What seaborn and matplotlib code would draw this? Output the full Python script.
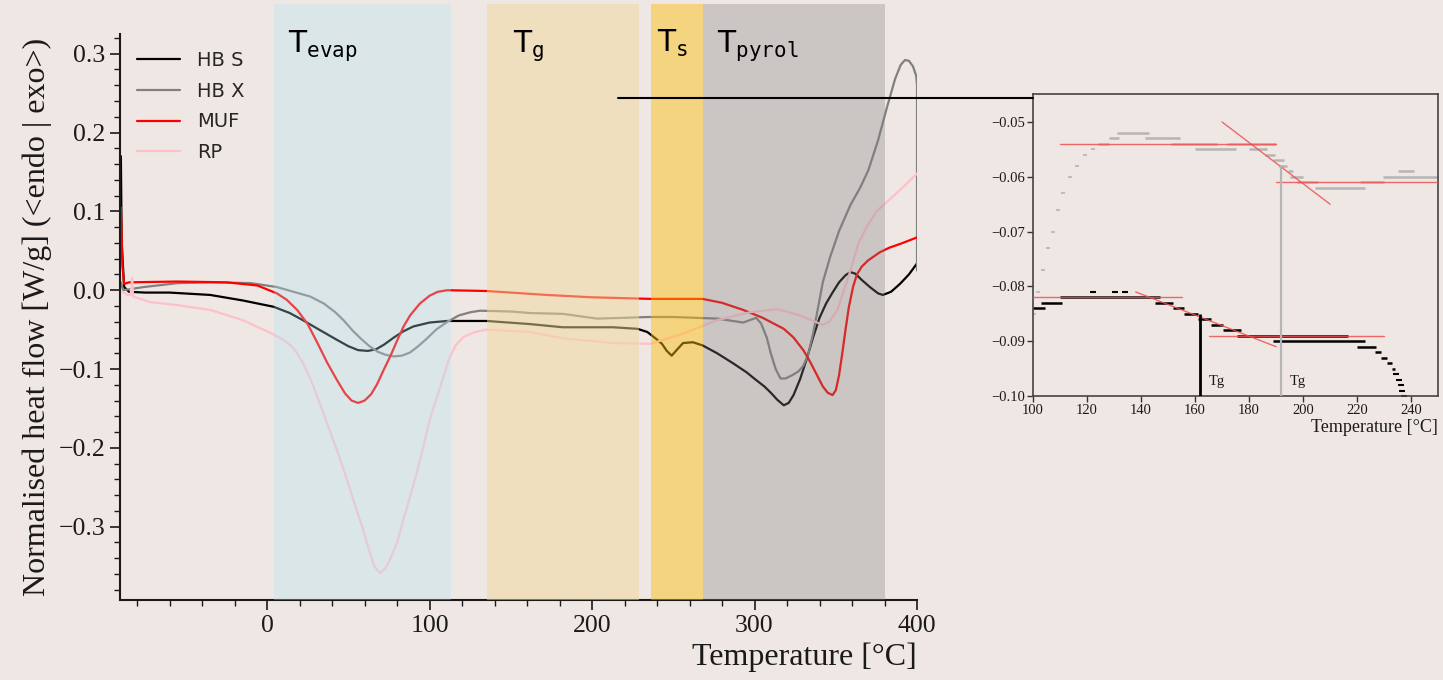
import matplotlib
matplotlib.use("Agg")
import numpy as np
import pandas as pd
import matplotlib.pyplot as plt
import seaborn as sns
from matplotlib.lines import Line2D
from matplotlib.ticker import MultipleLocator, FuncFormatter

# ---------------- data ----------------
samples = ["HB S", "HB X", "MUF", "RP"]
colors = ["black", "gray", "red", "pink"]

hbs_T = [-90, -89.5, -88, -85, -75, -60, -35, -15, 4, 14, 22, 32, 43, 50, 56, 62, 67, 72, 78,
         84, 90, 100, 111, 135, 162, 182, 213, 228, 234, 239, 243, 246, 249, 252, 256, 262,
         268, 277, 287, 295, 301, 306, 310, 314, 318, 321, 324, 328, 332, 336, 340, 344, 348,
         352, 356, 359, 362, 366, 371, 376, 379, 384, 389.5, 395, 400]
hbs_hf = [0.17, 0.06, 0.004, -0.002, -0.003, -0.003, -0.006, -0.013, -0.021, -0.029, -0.038,
          -0.050, -0.063, -0.071, -0.076, -0.077, -0.075, -0.069, -0.060, -0.052, -0.046,
          -0.041, -0.039, -0.039, -0.043, -0.047, -0.047, -0.049, -0.053, -0.061, -0.068,
          -0.077, -0.083, -0.076, -0.067, -0.066, -0.070, -0.080, -0.093, -0.104, -0.114,
          -0.122, -0.130, -0.139, -0.146, -0.143, -0.133, -0.113, -0.088, -0.060, -0.035,
          -0.017, -0.003, 0.010, 0.019, 0.023, 0.021, 0.013, 0.004, -0.004, -0.006, -0.002,
          0.008, 0.020, 0.034]

hbx_T = [-90, -88.6, -76, -55, -35, -10, 6, 26.5, 35, 42, 47, 53, 58, 63, 68, 73, 78, 83, 88,
         93, 98, 104, 111, 118, 125, 131, 150, 162, 182, 203, 220, 234, 250, 277, 293, 301, 304,
         307.5, 310, 313, 316, 319, 323, 327, 330, 333, 336, 338, 342, 346.5, 352, 359, 365,
         370, 376, 381.5, 386.5, 390, 392.6, 395, 397.5, 399.5, 400, 400]
hbx_hf = [0.01, 0.0, 0.004, 0.009, 0.010, 0.009, 0.004, -0.008, -0.017, -0.028, -0.038, -0.052,
          -0.062, -0.071, -0.078, -0.082, -0.084, -0.083, -0.079, -0.071, -0.062, -0.050,
          -0.040, -0.032, -0.028, -0.026, -0.027, -0.029, -0.030, -0.036, -0.035, -0.034,
          -0.034, -0.036, -0.041, -0.035, -0.042, -0.060, -0.080, -0.100, -0.112, -0.112,
          -0.108, -0.103, -0.096, -0.082, -0.055, -0.034, 0.010, 0.042, 0.075, 0.108, 0.130,
          0.152, 0.190, 0.232, 0.268, 0.286, 0.292, 0.291, 0.284, 0.272, 0.260, 0.025]

muf_T = [-90, -89, -88, -85, -55, -25, -6, 6, 12, 18.5, 25, 31, 37, 43, 48, 52, 56, 60, 64,
         67.5, 72, 76, 80, 84, 88, 94, 100, 105, 111, 135, 172, 200, 236, 268, 280, 293, 305,
         318, 324, 330, 334, 338, 342, 345, 348, 350, 352, 354, 356, 358, 360.6, 363, 366, 370,
         377, 383, 390, 400]
muf_hf = [0.105, 0.03, 0.008, 0.010, 0.011, 0.010, 0.006, -0.004, -0.012, -0.025, -0.043,
          -0.067, -0.092, -0.114, -0.131, -0.140, -0.143, -0.140, -0.132, -0.120, -0.100,
          -0.083, -0.064, -0.046, -0.032, -0.017, -0.007, -0.002, 0.000, -0.001, -0.006,
          -0.009, -0.011, -0.011, -0.016, -0.025, -0.035, -0.049, -0.060, -0.076, -0.090,
          -0.106, -0.122, -0.130, -0.133, -0.127, -0.108, -0.080, -0.050, -0.022, 0.004,
          0.020, 0.030, 0.038, 0.048, 0.054, 0.059, 0.067]

rp_T = [-89, -86, -84, -83, -82.5, -72, -55, -35, -15, 4, 10, 15, 18.5, 22, 26.5, 30, 34, 38,
        43, 47, 51, 55, 59, 63, 66, 69.5, 73, 76, 80, 84, 88, 92, 96, 100, 104.6, 108.5, 112,
        116, 121, 128, 135, 162, 182, 213, 236, 256, 277, 297, 314, 328, 342, 346, 351, 355,
        359, 364, 369, 375, 381.5, 390, 400]
rp_hf = [-0.002, -0.006, -0.006, 0.016, -0.008, -0.015, -0.019, -0.025, -0.038, -0.056, -0.063,
         -0.071, -0.080, -0.092, -0.112, -0.130, -0.152, -0.175, -0.203, -0.227, -0.252,
         -0.278, -0.303, -0.332, -0.350, -0.359, -0.352, -0.340, -0.320, -0.290, -0.262,
         -0.232, -0.200, -0.165, -0.135, -0.110, -0.087, -0.070, -0.059, -0.053, -0.050,
         -0.053, -0.061, -0.067, -0.068, -0.055, -0.038, -0.028, -0.024, -0.032, -0.044,
         -0.040, -0.025, 0.000, 0.025, 0.060, 0.080, 0.100, 0.112, 0.128, 0.148]

# temperature regions
region_labels = [r"$\mathrm{T}_{\mathtt{evap}}$", r"$\mathrm{T}_{\mathtt{g}}$",
                 r"$\mathrm{T}_{\mathtt{s}}$", r"$\mathrm{T}_{\mathtt{pyrol}}$"]
region_start = [4, 135.5, 236.3, 268.3]
region_end = [113.2, 229, 268.3, 380.3]
region_label_x = [13, 151.4, 240, 277]

# inset: zoom on the glass transition
inset_gray_rise_T = [100.4, 102, 103.8, 105.7, 107.5, 109.4, 111.2, 113.7, 116.2, 119.3, 122.3]
inset_gray_rise_hf = [-0.085, -0.081, -0.077, -0.073, -0.070, -0.066, -0.063, -0.060, -0.058,
                      -0.056, -0.055]
inset_gray_x0 = [124, 128, 131, 141.5, 151, 160, 172, 180, 186, 189, 191, 194.6, 195, 197.7,
                 204.4, 221, 229.7, 235]
inset_gray_x1 = [128, 132, 143, 154.4, 168, 175, 190, 186.5, 189.6, 193, 194, 196.4, 200,
                 205.7, 223, 230, 250, 241]
inset_gray_hf = [-0.054, -0.053, -0.052, -0.053, -0.054, -0.055, -0.054, -0.055, -0.056,
                 -0.057, -0.058, -0.059, -0.060, -0.061, -0.062, -0.061, -0.060, -0.059]

inset_black_x0 = [100, 103, 110, 145, 152, 156, 161, 166, 170.5, 175.4, 189, 220, 226.7, 229,
                  231, 232.8]
inset_black_x1 = [104.4, 110.6, 147, 152, 156, 161, 166, 170.5, 177, 216.8, 223, 227, 229,
                  231, 232.8, 234]
inset_black_hf = [-0.084, -0.083, -0.082, -0.083, -0.084, -0.085, -0.086, -0.087, -0.088,
                  -0.089, -0.090, -0.091, -0.092, -0.093, -0.094, -0.095]
inset_black_dots_T = [122.3, 130.4, 134, 234.5, 235.5, 236.2, 236.8, 237.5]
inset_black_dots_hf = [-0.081, -0.081, -0.081, -0.096, -0.097, -0.098, -0.099, -0.100]

tangent_x0 = [110, 170, 190, 100, 138, 165]
tangent_x1 = [190, 210, 250, 155, 190, 230]
tangent_y0 = [-0.054, -0.050, -0.061, -0.082, -0.081, -0.089]
tangent_y1 = [-0.054, -0.065, -0.061, -0.082, -0.091, -0.089]

tg_T = [162, 192]
tg_top = [-0.085, -0.058]
tg_colors = ["black", "#b5b5b5"]

# ---------------- style ----------------
sns.set_theme(style="ticks")
plt.rcParams["font.family"] = ["Liberation Serif", "DejaVu Serif"]
plt.rcParams["mathtext.fontset"] = "dejavusans"
plt.rcParams["axes.unicode_minus"] = True
BG = "#efe7e3"
INK = "#1a1a1a"

fig = plt.figure(figsize=(14.43, 6.8), dpi=100, facecolor=BG)
ax = fig.add_axes([0.0832, 0.1176, 0.5523, 0.8324])
ax.set_facecolor(BG)

frames = []
for name, T, hf in zip(samples, [hbs_T, hbx_T, muf_T, rp_T], [hbs_hf, hbx_hf, muf_hf, rp_hf]):
    frames.append(pd.DataFrame({"sample": name, "T": T, "hf": hf}))
df = pd.concat(frames, ignore_index=True)

sns.lineplot(data=df, x="T", y="hf", hue="sample", hue_order=samples,
             palette=dict(zip(samples, colors)), units="sample", estimator=None,
             sort=False, linewidth=1.6, legend=False, ax=ax, zorder=2)

span_colors = ["#b0e4f4", "#efd99d", "#fcbd05", "#808080"]
span_alpha = [0.3, 0.5, 0.45, 0.32]
for x0, x1, c, a in zip(region_start, region_end, span_colors, span_alpha):
    ax.axvspan(x0, x1, ymin=0, ymax=1.053, color=c, alpha=a, lw=0, zorder=3, clip_on=False)
for lab, x in zip(region_labels, region_label_x):
    ax.text(x, 0.302, lab, fontsize=21.5, ha="left", va="baseline", color="black", zorder=5)

handles = [Line2D([], [], color=c, lw=1.6) for c in colors]
ax.legend(handles, samples, loc="upper left", bbox_to_anchor=(0.0213, 0.97), frameon=False,
          prop={"family": "DejaVu Sans", "size": 14}, handlelength=2.2, handletextpad=0.88,
          labelspacing=0.6, borderaxespad=0, borderpad=0)

ax.set_xlim(-90.5, 400)
ax.set_ylim(-0.393, 0.325)
ax.set_xticks([0, 100, 200, 300, 400])
ax.xaxis.set_minor_locator(MultipleLocator(20))
ax.yaxis.set_major_locator(MultipleLocator(0.1))
ax.yaxis.set_minor_locator(MultipleLocator(0.02))
ax.yaxis.set_major_formatter(FuncFormatter(lambda v, p: f"{v:.1f}".replace("-", "\u2212")))
ax.tick_params(which="major", length=7, width=1.2, labelsize=18.5, direction="out", color=INK,
               labelcolor=INK)
ax.tick_params(which="minor", length=4, width=1.0, direction="out", color=INK)
sns.despine(ax=ax)
for s in ["left", "bottom"]:
    ax.spines[s].set_linewidth(1.5)
    ax.spines[s].set_color(INK)
ax.set_xlabel("Temperature [°C]", fontsize=23, loc="right", labelpad=4, color=INK)
ax.set_ylabel("Normalised heat flow [W/g] (<endo | exo>)", fontsize=23, labelpad=5, color=INK)

# ---------------- inset ----------------
ax2 = fig.add_axes([0.7159, 0.4176, 0.2807, 0.4441])
ax2.set_facecolor(BG)
sns.scatterplot(x=inset_gray_rise_T, y=inset_gray_rise_hf, marker="_", s=12, color="#b5b5b5",
                linewidth=1.2, ax=ax2, zorder=2)
ax2.hlines(inset_gray_hf, inset_gray_x0, inset_gray_x1, color="#b5b5b5", lw=1.8, zorder=2)
ax2.hlines(inset_black_hf, inset_black_x0, inset_black_x1, color="black", lw=1.8, zorder=2)
sns.scatterplot(x=inset_black_dots_T, y=inset_black_dots_hf, marker="_", s=14, color="black",
                linewidth=1.5, ax=ax2, zorder=2)
for x0, x1, y0, y1 in zip(tangent_x0, tangent_x1, tangent_y0, tangent_y1):
    ax2.plot([x0, x1], [y0, y1], color="#f05050", lw=1.0, alpha=0.85, zorder=3)
ax2.vlines(tg_T, -0.1, tg_top, colors=tg_colors, lw=[2.0, 1.6], zorder=4)
for x in tg_T:
    ax2.text(x + 3, -0.0974, "Tg", fontsize=10.5, ha="left", va="center", color=INK)

ax2.set_xlim(100, 250)
ax2.set_ylim(-0.1, -0.0449)
ax2.set_xticks([100, 120, 140, 160, 180, 200, 220, 240])
ax2.set_yticks([-0.10, -0.09, -0.08, -0.07, -0.06, -0.05])
ax2.yaxis.set_major_formatter(FuncFormatter(lambda v, p: f"{v:.2f}".replace("-", "\u2212")))
ax2.tick_params(length=4, width=1.0, labelsize=10.5, direction="out", color="#333333",
                labelcolor=INK, pad=2)
for s in ax2.spines.values():
    s.set_linewidth(1.2)
    s.set_color("#444444")
ax2.set_xlabel("Temperature [°C]", fontsize=13, loc="right", labelpad=1, color=INK)
ax2.set_ylabel("")

# connector line from the main plot to the inset
fig.add_artist(Line2D([618 / 1443, 1033 / 1443], [1 - 98 / 680, 1 - 98 / 680],
                      color="black", lw=1.5, transform=fig.transFigure))

fig.savefig("out.png", dpi=100, facecolor=BG)
